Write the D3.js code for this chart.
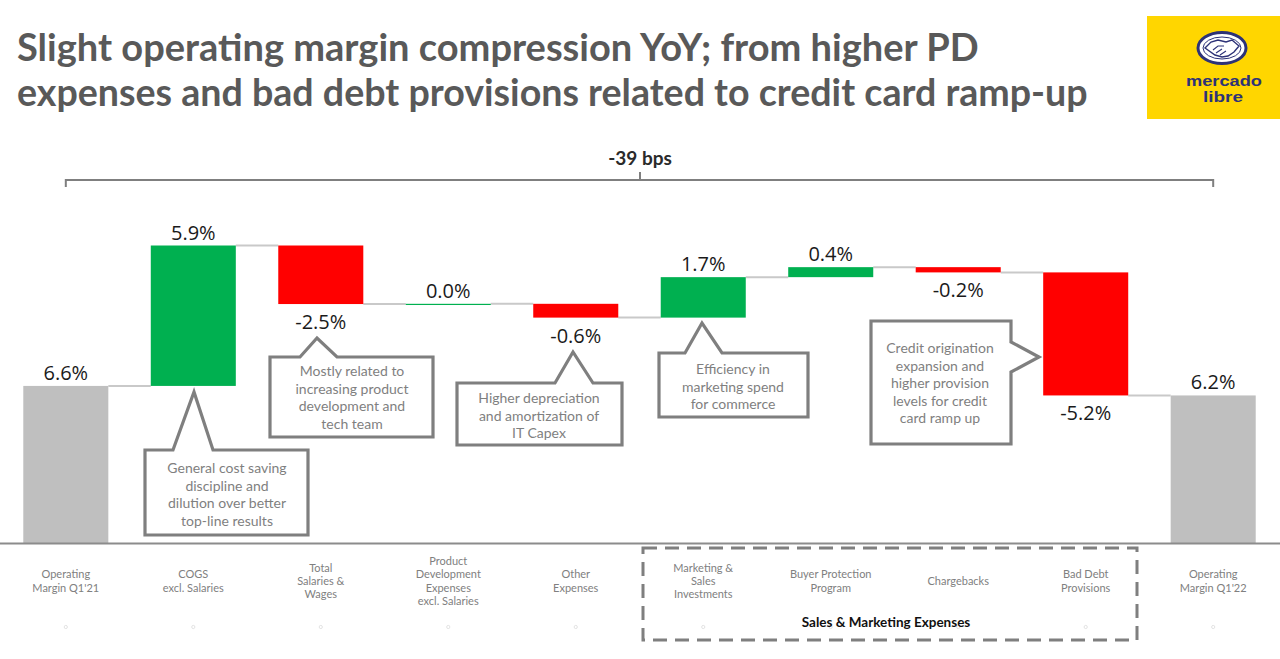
<!DOCTYPE html>
<html>
<head>
<meta charset="utf-8">
<script src="https://cdn.jsdelivr.net/npm/d3@7"></script>
<style>
  html, body { margin: 0; padding: 0; background: #fff; }
  svg { display: block; }
</style>
</head>
<body>
<svg id="chart" width="1280" height="659"></svg>
<script>
// ---------- DATA ----------
const categories = [
  "Operating\nMargin Q1'21",
  "COGS\nexcl. Salaries",
  "Total\nSalaries &\nWages",
  "Product\nDevelopment\nExpenses\nexcl. Salaries",
  "Other\nExpenses",
  "Marketing &\nSales\nInvestments",
  "Buyer Protection\nProgram",
  "Chargebacks",
  "Bad Debt\nProvisions",
  "Operating\nMargin Q1'22"
];
const values = [6.6, 5.9, -2.46, 0.01, -0.58, 1.7, 0.42, -0.22, -5.17, 6.2];
const kinds = ["total", "delta", "delta", "delta", "delta", "delta", "delta", "delta", "delta", "total"];
const titleLines = [
  "Slight operating margin compression YoY; from higher PD",
  "expenses and bad debt provisions related to credit card ramp-up"
];
const bracketLabel = "-39 bps";
const groupLabel = "Sales & Marketing Expenses";
const logoLines = ["mercado", "libre"];
const calloutTexts = [
  ["General cost saving", "discipline and", "dilution over better", "top-line results"],
  ["Mostly related to", "increasing product", "development and", "tech team"],
  ["Higher depreciation", "and amortization of", "IT Capex"],
  ["Efficiency in", "marketing spend", "for commerce"],
  ["Credit origination", "expansion and", "higher provision", "levels for credit", "card ramp up"]
];

// ---------- SETUP ----------
const svg = d3.select("#chart");
const W = 1280;
const fmt = d3.formatLocale({decimal: ".", thousands: ",", grouping: [3], currency: ["", ""], minus: "-"}).format(".1f");

const x = d3.scaleBand().domain(categories).range([2, 1277]).paddingInner(0.333).paddingOuter(0.167);
const y = d3.scaleLinear().domain([0, 13]).range([543, 543 - 13 * 23.8]);

// compute waterfall
let running = 0;
const bars = categories.map((c, i) => {
  const v = values[i];
  let a, b;
  if (kinds[i] === "total") { a = 0; b = v; running = v; }
  else { a = running; b = running + v; running = b; }
  return {cat: c, v, a, b, kind: kinds[i], i};
});

const colorOf = d => d.kind === "total" ? "#bfbfbf" : (d.v >= 0 ? "#00b050" : "#ff0000");

// ---------- TITLE ----------
const title = svg.append("g");
const tl = title.selectAll("text").data(titleLines).join("text")
  .attr("x", 17).attr("y", (d, i) => 61 + i * 45)
  .attr("font-family", "Lato, 'Open Sans', sans-serif")
  .attr("font-weight", 700).attr("font-size", 32)
  .attr("fill", "#595959")
  .text(d => d);
const targets = [962, 1071];
tl.each(function(d, i) {
  const len = this.getComputedTextLength();
  const fs = 32 * targets[i] / len;
  d3.select(this).attr("font-size", fs.toFixed(2));
});

// ---------- LOGO ----------
const logo = svg.append("g");
logo.append("rect").attr("x", 1147).attr("y", 16).attr("width", 133).attr("height", 103).attr("fill", "#ffd600");
logo.append("ellipse").attr("cx", 1222).attr("cy", 48).attr("rx", 24).attr("ry", 15.5)
  .attr("fill", "#ffffff").attr("stroke", "#2d3277").attr("stroke-width", 3);
logo.append("ellipse").attr("cx", 1222).attr("cy", 48).attr("rx", 19).attr("ry", 11)
  .attr("fill", "none").attr("stroke", "#2d3277").attr("stroke-width", 1);
logo.append("path")
  .attr("d", "M1205,48 L1211,42 L1218,40 L1226,42 L1232,40 L1239,46 L1234,52 L1228,56 L1222,57 L1215,55 Z")
  .attr("fill", "#ffffff").attr("stroke", "#2d3277").attr("stroke-width", 1.4);
logo.append("path")
  .attr("d", "M1213,50 L1218,46 L1224,46 M1216,53 L1222,49 M1220,55 L1226,51")
  .attr("fill", "none").attr("stroke", "#2d3277").attr("stroke-width", 1.1);
const logoWidths = [76, 40];
logoLines.forEach((ln, k) => {
  logo.append("text").attr("text-anchor", "middle")
    .attr("x", 1224 - k).attr("y", 86 + k * 16.2)
    .attr("font-family", "'Liberation Sans', Arial, sans-serif").attr("font-weight", 700).attr("font-size", 14.2)
    .attr("fill", "#2d3277")
    .attr("textLength", logoWidths[k]).attr("lengthAdjust", "spacingAndGlyphs")
    .text(ln);
});

// ---------- BRACKET ----------
const bx0 = x(categories[0]) + x.bandwidth() / 2;
const bx1 = x(categories[categories.length - 1]) + x.bandwidth() / 2;
const bm = 640;
svg.append("path")
  .attr("d", `M${bx0},187 L${bx0},180 L${bx1},180 L${bx1},187 M${bm},180 L${bm},172`)
  .attr("fill", "none").attr("stroke", "#7f7f7f").attr("stroke-width", 2);
svg.append("text").attr("x", bm).attr("y", 165).attr("text-anchor", "middle")
  .attr("font-family", "Lato, 'Open Sans', sans-serif").attr("font-weight", 700).attr("font-size", 19)
  .attr("fill", "#2a2a2a").text(bracketLabel);

// ---------- CONNECTORS ----------
const conn = svg.append("g");
bars.slice(0, -1).forEach((d, i) => {
  const next = bars[i + 1];
  conn.append("line")
    .attr("x1", x(d.cat) + x.bandwidth()).attr("x2", x(next.cat))
    .attr("y1", y(d.b)).attr("y2", y(d.b))
    .attr("stroke", "#c9c9c9").attr("stroke-width", 2);
});

// ---------- BARS ----------
svg.append("g").selectAll("rect").data(bars).join("rect")
  .attr("x", d => x(d.cat))
  .attr("width", x.bandwidth())
  .attr("y", d => y(Math.max(d.a, d.b)))
  .attr("height", d => Math.max(1.2, Math.abs(y(d.a) - y(d.b))))
  .attr("fill", colorOf);

// ---------- VALUE LABELS ----------
svg.append("g").selectAll("text").data(bars).join("text")
  .attr("x", d => x(d.cat) + x.bandwidth() / 2)
  .attr("y", d => d.v >= 0 ? y(Math.max(d.a, d.b)) - 6 : y(Math.min(d.a, d.b)) + 25)
  .attr("text-anchor", "middle")
  .attr("font-family", "'Open Sans', sans-serif").attr("font-size", 20)
  .attr("fill", "#1a1a1a")
  .text(d => fmt(d.v) + "%");

// ---------- AXIS LINE ----------
svg.append("line").attr("x1", 0).attr("x2", W).attr("y1", y(0) + 0.5).attr("y2", y(0) + 0.5)
  .attr("stroke", "#8c8c8c").attr("stroke-width", 2);

// ---------- CATEGORY LABELS ----------
const cl = svg.append("g");
categories.forEach(c => {
  const lines = c.split("\n");
  const cx = x(c) + x.bandwidth() / 2;
  const lh = 13.4;
  const y0 = 585 - (lines.length - 1) * lh / 2;
  const t = cl.append("text").attr("text-anchor", "middle")
    .attr("font-family", "Lato, 'Open Sans', sans-serif").attr("font-size", 11)
    .attr("fill", "#808080");
  lines.forEach((ln, k) => t.append("tspan").attr("x", cx).attr("y", y0 + k * lh).text(ln));
  cl.append("circle").attr("cx", cx).attr("cy", 627).attr("r", 1.6)
    .attr("fill", "#ffffff").attr("stroke", "#dcdcdc").attr("stroke-width", 0.8);
});

// ---------- GROUP BOX ----------
svg.append("rect").attr("x", 643).attr("y", 548).attr("width", 494).attr("height", 92)
  .attr("fill", "none").attr("stroke", "#7f7f7f").attr("stroke-width", 3)
  .attr("stroke-dasharray", "14 8");
svg.append("text").attr("x", 886).attr("y", 627).attr("text-anchor", "middle")
  .attr("font-family", "Lato, 'Open Sans', sans-serif").attr("font-weight", 700).attr("font-size", 13.5)
  .attr("fill", "#111111").text(groupLabel);

// ---------- CALLOUTS ----------
const callouts = [
  {path: "M145,450 L173,450 L194,392 L213,450 L308,450 L308,535 L145,535 Z", cx: 227, ty: 467},
  {path: "M270,357 L300,357 L317,338 L337,357 L433,357 L433,437 L270,437 Z", cx: 352, ty: 370},
  {path: "M457,383 L555,383 L573,352 L593,383 L622,383 L622,445 L457,445 Z", cx: 539, ty: 397},
  {path: "M659,353 L685,353 L702,323 L722,353 L808,353 L808,417 L659,417 Z", cx: 733, ty: 368},
  {path: "M871,321 L1011,321 L1011,342 L1039,357 L1011,372 L1011,444 L871,444 Z", cx: 940, ty: 347}
];
const cg = svg.append("g");
callouts.forEach((c, i) => {
  cg.append("path").attr("d", c.path).attr("fill", "#ffffff")
    .attr("stroke", "#7f7f7f").attr("stroke-width", 3.2).attr("stroke-linejoin", "miter");
  const t = cg.append("text").attr("text-anchor", "middle")
    .attr("font-family", "Lato, 'Open Sans', sans-serif").attr("font-size", 14)
    .attr("fill", "#7f7f7f").attr("dominant-baseline", "central");
  calloutTexts[i].forEach((ln, k) => t.append("tspan").attr("x", c.cx).attr("y", c.ty + k * 17.5).text(ln));
});
</script>
</body>
</html>
